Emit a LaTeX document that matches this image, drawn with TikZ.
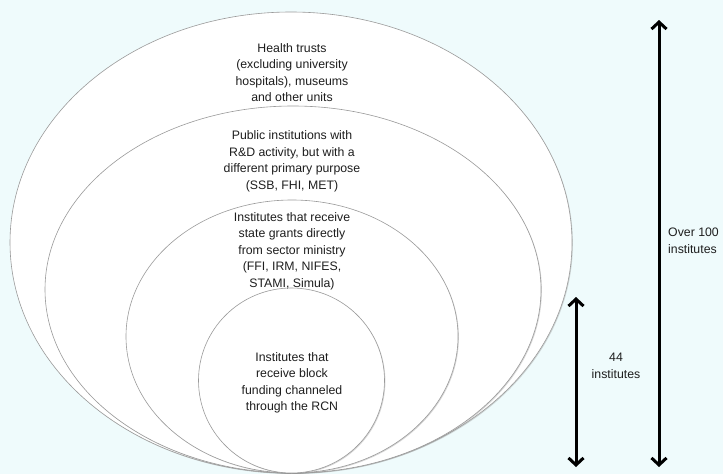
\documentclass[tikz,border=0pt]{standalone}
\usepackage{fontspec}
\setmainfont{Liberation Sans}
\usetikzlibrary{shapes.geometric,arrows.meta,shadows}
\definecolor{bgcyan}{HTML}{EFFBFC}
\definecolor{rimgray}{HTML}{9A9A9A}
\definecolor{txt}{HTML}{1E1E1E}
\begin{document}
\begin{tikzpicture}[x=1pt,y=-1pt,
  ring/.style={ellipse, draw=rimgray, line width=0.6pt, fill=white, inner sep=0pt,
    drop shadow={shadow xshift=0.9pt, shadow yshift=-0.9pt, opacity=0.35, fill=black!45}},
  label/.style={align=center, text=txt, font=\fontsize{12.3}{16.5}\selectfont, inner sep=0pt},
  span/.style={line width=3pt, {Straight Barb[length=7pt,width=15pt]}-{Straight Barb[length=7pt,width=15pt]}}
]
\fill[bgcyan] (0,0) rectangle (723,474);
\useasboundingbox (0,0) rectangle (723,474);

\node[ring, minimum width=562pt, minimum height=461pt] (e1) at (291,242.5) {};
\node[ring, minimum width=496pt, minimum height=367pt] (e2) at (293,289.5) {};
\node[ring, minimum width=332pt, minimum height=273pt] (e3) at (292,336.5) {};
\node[ring, minimum width=186pt, minimum height=185pt] (e4) at (291.5,380.5) {};

\node[label] (t1) at (292,72.5) {Health trusts\\(excluding university\\hospitals), museums\\and other units};
\node[label] (t2) at (292,161.5) {Public institutions with\\R\&D activity, but with a\\different primary purpose\\(SSB, FHI, MET)};
\node[label] (t3) at (292,251) {Institutes that receive\\state grants directly\\from sector ministry\\(FFI, IRM, NIFES,\\STAMI, Simula)};
\node[label] (t4) at (292,383) {Institutes that\\receive block\\funding channeled\\through the RCN};

\coordinate (btop) at (659,20);
\coordinate (bbot) at (659,467);
\coordinate (stop) at (576,297);
\coordinate (sbot) at (576,467);
\draw[span] (btop) -- (bbot);
\draw[span] (stop) -- (sbot);

\node[label, anchor=west, align=left] (over) at (668,241) {Over 100\\institutes};
\node[label] (n44) at (616,366) {44\\institutes};
\end{tikzpicture}
\end{document}
